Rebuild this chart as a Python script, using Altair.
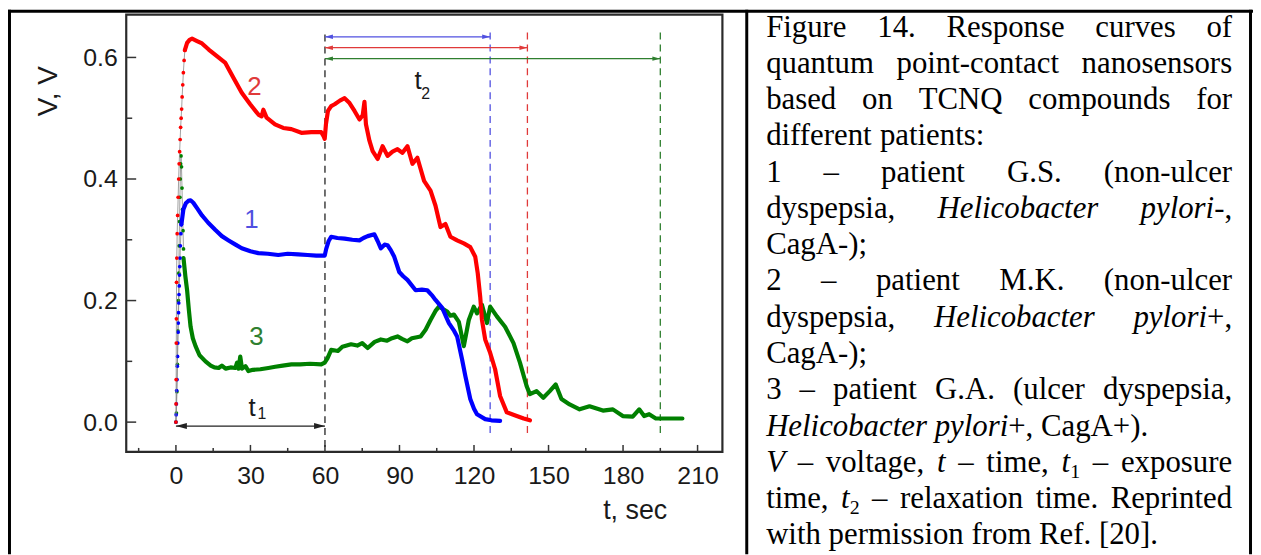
import altair as alt
import pandas as pd

# ---------------- values ----------------
# dotted initial rise of each curve (t in s, V in volts)
rise1_t = [0.0, 0.1, 0.2, 0.3, 0.45, 0.55, 0.65, 0.75, 0.85, 0.95, 1.05, 1.15, 1.25, 1.35, 1.45, 1.55, 1.65, 1.8, 2.0, 2.2]
rise1_v = [0.0, 0.012, 0.03, 0.052, 0.07, 0.092, 0.108, 0.13, 0.148, 0.163, 0.18, 0.196, 0.21, 0.224, 0.242, 0.256, 0.27, 0.29, 0.31, 0.325]
rise2_t = [0.0, 0.05, 0.1, 0.15, 0.2, 0.25, 0.35, 0.5, 0.7, 0.9, 1.1, 1.3, 1.5, 1.7, 1.9, 2.1, 2.3, 2.5, 2.75, 3.0, 3.3, 3.6]
rise2_v = [0.0, 0.03, 0.07, 0.13, 0.17, 0.23, 0.27, 0.31, 0.34, 0.37, 0.4, 0.425, 0.445, 0.465, 0.485, 0.5, 0.515, 0.535, 0.555, 0.575, 0.595, 0.612]
rise3_t = [0.0, 0.2, 0.4, 0.6, 0.8, 1.0, 1.15, 1.3, 1.45, 1.6, 1.75, 1.9, 2.05, 2.25, 2.45, 2.65, 2.85, 3.05]
rise3_v = [0.0, 0.015, 0.05, 0.095, 0.15, 0.2, 0.245, 0.29, 0.33, 0.37, 0.4, 0.425, 0.438, 0.42, 0.385, 0.35, 0.315, 0.285]

# curve 1 (blue)
curve1_t = [2.2, 3.0, 4.0, 5.0, 5.9, 7.0, 8.5, 10.5, 13.0, 15.9, 18.5, 21.2, 24.0, 26.5, 30.0, 33.2, 37.0, 41.2,
            45.0, 49.2, 53.0, 56.5, 59.9, 60.5, 61.5, 62.5, 65.0, 67.9, 71.0, 73.9, 75.5, 77.2, 79.9, 81.2, 82.5,
            84.0, 85.2, 86.5, 87.9, 89.9, 91.5, 93.2, 96.5, 99.0, 101.2, 103.0, 104.5, 107.2, 109.9, 112.0, 113.2,
            115.2, 116.5, 118.5, 120.0, 121.2, 124.5, 127.0, 130.5]
curve1_v = [0.325, 0.35, 0.36, 0.364, 0.365, 0.361, 0.352, 0.34, 0.328, 0.316, 0.306, 0.299, 0.292, 0.286, 0.281,
            0.278, 0.277, 0.275, 0.277, 0.276, 0.275, 0.274, 0.274, 0.285, 0.298, 0.305, 0.303, 0.302, 0.3, 0.299,
            0.303, 0.306, 0.309, 0.298, 0.286, 0.292, 0.291, 0.283, 0.272, 0.247, 0.24, 0.234, 0.217, 0.218, 0.217,
            0.209, 0.201, 0.188, 0.163, 0.15, 0.141, 0.103, 0.076, 0.038, 0.022, 0.013, 0.005, 0.003, 0.002]
# curve 2 (red)
curve2_t = [3.6, 4.5, 5.5, 6.5, 8.5, 10.5, 13.2, 16.5, 19.9, 23.2, 26.5, 29.9, 33.2, 34.5, 35.2, 36.5, 39.9, 43.2,
            46.5, 50.5, 54.5, 58.5, 59.5, 59.9, 60.4, 61.2, 62.5, 63.9, 66.0, 67.9, 69.9, 71.9, 73.9, 75.2, 75.9,
            76.5, 77.9, 79.2, 81.2, 83.2, 85.2, 87.2, 89.2, 91.2, 93.2, 95.2, 97.2, 99.9, 102.5, 104.5, 106.5,
            108.5, 110.5, 113.2, 115.9, 118.5, 120.5, 121.5, 122.5, 123.2, 124.5, 126.5, 128.5, 130.5, 133.2,
            137.2, 140.0, 142.5]
curve2_v = [0.612, 0.624, 0.629, 0.631, 0.627, 0.623, 0.613, 0.602, 0.591, 0.566, 0.542, 0.523, 0.506, 0.503,
            0.514, 0.501, 0.49, 0.484, 0.482, 0.476, 0.477, 0.477, 0.47, 0.466, 0.49, 0.512, 0.52, 0.523, 0.529,
            0.533, 0.525, 0.512, 0.498, 0.505, 0.527, 0.49, 0.463, 0.446, 0.433, 0.454, 0.438, 0.445, 0.449, 0.443,
            0.454, 0.425, 0.435, 0.397, 0.381, 0.356, 0.321, 0.326, 0.305, 0.299, 0.294, 0.288, 0.272, 0.245, 0.206,
            0.168, 0.136, 0.114, 0.087, 0.043, 0.016, 0.01, 0.006, 0.003]
# curve 3 (green)
curve3_t = [3.05, 3.8, 4.5, 5.2, 5.9, 6.8, 7.9, 9.5, 11.9, 14.0, 15.5, 17.2, 18.5, 20.0, 22.0, 23.9, 24.6, 25.2,
            25.9, 26.6, 28.0, 29.2, 31.0, 34.0, 37.2, 40.0, 43.0, 46.5, 50.0, 54.0, 58.5, 59.9, 61.0, 62.5, 65.2,
            67.0, 70.5, 73.0, 75.0, 77.2, 80.0, 82.5, 85.0, 87.0, 89.2, 91.0, 93.2, 95.0, 98.5, 100.5, 102.5, 104.5,
            105.9, 107.5, 109.2, 110.5, 111.9, 113.9, 115.9, 117.9, 119.9, 121.2, 123.2, 125.2, 126.5, 129.2, 132.5,
            135.9, 138.5, 141.2, 142.5, 145.2, 147.9, 150.5, 152.9, 155.2, 158.5, 162.5, 166.5, 171.9, 175.9, 179.9,
            183.9, 186.5, 188.5, 190.5, 193.2, 198.5, 203.9]
curve3_v = [0.27, 0.24, 0.217, 0.185, 0.157, 0.138, 0.125, 0.11, 0.1, 0.093, 0.09, 0.089, 0.093, 0.088, 0.09,
            0.089, 0.098, 0.088, 0.108, 0.088, 0.092, 0.084, 0.086, 0.087, 0.089, 0.091, 0.093, 0.095, 0.095, 0.096,
            0.095, 0.098, 0.105, 0.119, 0.117, 0.124, 0.128, 0.126, 0.13, 0.122, 0.132, 0.136, 0.134, 0.138, 0.141,
            0.137, 0.133, 0.138, 0.141, 0.152, 0.168, 0.183, 0.19, 0.186, 0.182, 0.175, 0.177, 0.165, 0.125, 0.168,
            0.19, 0.179, 0.193, 0.163, 0.19, 0.174, 0.157, 0.13, 0.098, 0.059, 0.046, 0.051, 0.04, 0.051, 0.062,
            0.038, 0.029, 0.021, 0.026, 0.019, 0.021, 0.01, 0.009, 0.021, 0.01, 0.013, 0.006, 0.006, 0.006]

curve_names = ["1", "2", "3"]
curve_colors = ["#0000ff", "#ff0000", "#008000"]

x_major_ticks = [0, 30, 60, 90, 120, 150, 180, 210]
x_minor_ticks = [-15, 15, 45, 75, 105, 135, 165, 195]
y_major_ticks = [0.0, 0.2, 0.4, 0.6]
y_minor_ticks = [0.1, 0.3, 0.5]

exposure_start = 0
exposure_end = 60
relax_end = [126.5, 141.5, 195.0]      # per curve 1, 2, 3
relax_level = [0.634, 0.616, 0.598]     # height of the t2 arrows
exposure_level = -0.0065

curve_label_t = [30.4, 31.6, 32.4]
curve_label_v = [0.319, 0.538, 0.1275]

caption_lines = [
    ("Figure 14. Response curves of", True),
    ("quantum point-contact nanosensors", True),
    ("based on TCNQ compounds for", True),
    ("different patients:", False),
    ("1 – patient G.S. (non-ulcer", True),
    ("dyspepsia, *Helicobacter* *pylori*-,", True),
    ("CagA-);", False),
    ("2 – patient M.K. (non-ulcer", True),
    ("dyspepsia, *Helicobacter* *pylori*+,", True),
    ("CagA-);", False),
    ("3 – patient G.A. (ulcer dyspepsia,", True),
    ("*Helicobacter* *pylori*+, CagA+).", False),
    ("*V* – voltage, *t* – time, *t*_1 – exposure", True),
    ("time, *t*_2 – relaxation time. Reprinted", True),
    ("with permission from Ref. [20].", False),
]

# ---------------- layout ----------------
PLOT_L, PLOT_T, PLOT_W, PLOT_H = 127, 13, 600, 440   # page pixels of the plot frame
X_DOM = [-20.0, 220.0]
Y_DOM = [-0.049, 0.6703]
SANS = "Liberation Sans"
SERIF = "Liberation Serif"
INK = "#1a1a1a"


def t_of(px):
    return X_DOM[0] + (px - PLOT_L) * (X_DOM[1] - X_DOM[0]) / PLOT_W


def v_of(py):
    return Y_DOM[1] - (py - PLOT_T) * (Y_DOM[1] - Y_DOM[0]) / PLOT_H


xs = alt.Scale(domain=X_DOM, nice=False, zero=False)
ys = alt.Scale(domain=Y_DOM, nice=False, zero=False)
x_axis = alt.Axis(values=x_major_ticks, ticks=False, domain=False, grid=False, labelFontSize=25,
                  labelFont=SANS, labelColor=INK, labelPadding=12, labelFlush=False, title=None)
y_axis = alt.Axis(values=y_major_ticks, format=".1f", ticks=False, domain=False, grid=False, labelFontSize=25,
                  labelFont=SANS, labelColor=INK, labelPadding=9, labelFlush=False, title=None)


def X(f):
    return alt.X(f"{f}:Q", scale=xs, axis=x_axis)


def Y(f):
    return alt.Y(f"{f}:Q", scale=ys, axis=y_axis)


def X2(f):
    return alt.X2(f"{f}:Q")


def Y2(f):
    return alt.Y2(f"{f}:Q")


layers = []

# ---- tick marks (inward) ----
def xticks(vals, length):
    return alt.Chart(pd.DataFrame({"t": vals})).mark_rule(color="#333", strokeWidth=1.5).encode(
        x=X("t"), y=alt.value(PLOT_H), y2=alt.value(PLOT_H - length))


def yticks(vals, length):
    return alt.Chart(pd.DataFrame({"v": vals})).mark_rule(color="#333", strokeWidth=1.5).encode(
        y=Y("v"), x=alt.value(0), x2=alt.value(length))


layers += [xticks(x_major_ticks, 7), xticks(x_minor_ticks, 4), yticks(y_major_ticks, 10), yticks(y_minor_ticks, 6)]

# ---- dashed verticals ----
dash_df = pd.DataFrame({
    "t": [exposure_end] + relax_end,
    "top": [v_of(33)] + [v_of(31)] * 3,
    "bot": [Y_DOM[0]] + [v_of(436)] * 3,
    "c": ["k"] + curve_names,
})
layers.append(alt.Chart(dash_df).mark_rule(strokeWidth=1.3, strokeDash=[7, 5]).encode(
    x=X("t"), y=Y("top"), y2=Y2("bot"),
    color=alt.Color("c:N", scale=alt.Scale(domain=["k"] + curve_names,
                                           range=["#222222", "#5050e0", "#e03a3a", "#2f7f2f"]), legend=None)))

# ---- arrows ----
arrow_df = pd.DataFrame({
    "a": [exposure_start] + [exposure_end] * 3,
    "b": [exposure_end] + relax_end,
    "v": [exposure_level] + relax_level,
    "c": ["k"] + curve_names,
})
arrow_color = alt.Scale(domain=["k"] + curve_names, range=["#1a1a1a"] + curve_colors)
layers.append(alt.Chart(arrow_df).mark_rule(strokeWidth=1.3).encode(
    x=X("a"), x2=X2("b"), y=Y("v"), color=alt.Color("c:N", scale=arrow_color, legend=None)))

heads = pd.DataFrame({
    "t": [exposure_start, exposure_end] + [exposure_end] * 3 + relax_end,
    "v": [exposure_level, exposure_level] + relax_level + relax_level,
    "dir": ["L", "R"] + ["L"] * 3 + ["R"] * 3,
    "big": [1, 1] + [0] * 6,
    "c": ["k", "k"] + curve_names + curve_names,
})
RIGHT = "M0,0L-2,-0.55L-2,0.55Z"
LEFT = "M0,0L2,-0.55L2,0.55Z"
for d, shape in (("L", LEFT), ("R", RIGHT)):
    for big, size in ((1, 121), (0, 64)):
        sub = heads[(heads.dir == d) & (heads.big == big)]
        layers.append(alt.Chart(sub).mark_point(shape=shape, filled=True, opacity=1, size=size, strokeWidth=0).encode(
            x=X("t"), y=Y("v"), color=alt.Color("c:N", scale=arrow_color, legend=None)))

# ---- curves ----
def curve_layers(t_main, v_main, t_rise, v_rise, color):
    main = pd.DataFrame({"t": t_main, "v": v_main})
    main["i"] = range(len(main))
    rise = pd.DataFrame({"t": t_rise, "v": v_rise})
    rise["i"] = range(len(rise))
    return [
        alt.Chart(rise).mark_line(color="#888888", strokeWidth=0.8).encode(x=X("t"), y=Y("v"), order="i:Q"),
        alt.Chart(rise).mark_circle(color=color, size=14, opacity=1).encode(x=X("t"), y=Y("v")),
        alt.Chart(main).mark_line(color=color, strokeWidth=4.2, strokeJoin="round", strokeCap="round").encode(
            x=X("t"), y=Y("v"), order="i:Q"),
    ]


layers += curve_layers(curve3_t, curve3_v, rise3_t, rise3_v, curve_colors[2])
layers += curve_layers(curve1_t, curve1_v, rise1_t, rise1_v, curve_colors[0])
layers += curve_layers(curve2_t, curve2_v, rise2_t, rise2_v, curve_colors[1])

# ---- curve numbers ----
lab_df = pd.DataFrame({"t": curve_label_t, "v": curve_label_v, "c": curve_names, "text": curve_names})
layers.append(alt.Chart(lab_df).mark_text(font=SANS, fontSize=26, align="center", baseline="alphabetic").encode(
    x=X("t"), y=Y("v"), text="text:N",
    color=alt.Color("c:N", scale=alt.Scale(domain=curve_names, range=curve_colors), legend=None)))

# ---- t1 / t2 labels ----
tl = pd.DataFrame({"t": [t_of(250), t_of(417)], "v": [v_of(417), v_of(88)], "text": ["t", "t"]})
ts = pd.DataFrame({"t": [t_of(259), t_of(424)], "v": [v_of(420), v_of(98)], "text": ["1", "2"]})
layers.append(alt.Chart(tl).mark_text(font=SANS, fontSize=26, align="left", baseline="alphabetic", color=INK).encode(
    x=X("t"), y=Y("v"), text="text:N"))
layers.append(alt.Chart(ts).mark_text(font=SANS, fontSize=16, align="left", baseline="alphabetic", color=INK).encode(
    x=X("t"), y=Y("v"), text="text:N"))

# ---- axis titles ----
layers.append(alt.Chart(pd.DataFrame({"t": [t_of(607)], "v": [v_of(521)], "text": ["t, sec"]})).mark_text(
    font=SANS, fontSize=27, align="left", baseline="alphabetic", color=INK).encode(x=X("t"), y=Y("v"), text="text:N"))
layers.append(alt.Chart(pd.DataFrame({"t": [t_of(49)], "v": [v_of(90)], "text": ["V, V"]})).mark_text(
    font=SANS, fontSize=28, align="center", baseline="middle", angle=270, color=INK).encode(
    x=X("t"), y=Y("v"), text="text:N"))

# ---- table borders ----
border_df = pd.DataFrame({
    "a": [t_of(8), t_of(9.5), t_of(751.5), t_of(1258.5)],
    "b": [t_of(1261), t_of(9.5), t_of(751.5), t_of(1258.5)],
    "va": [v_of(9.5), v_of(8), v_of(8), v_of(8)],
    "vb": [v_of(9.5), v_of(556), v_of(556), v_of(556)],
})
layers.append(alt.Chart(border_df).mark_rule(color="#000000", strokeWidth=3).encode(
    x=X("a"), x2=X2("b"), y=Y("va"), y2=Y2("vb")))

# ---- caption (justified, Times metrics) ----
ROMAN = {' ': 250, 'a': 444, 'b': 500, 'c': 444, 'd': 500, 'e': 444, 'f': 333, 'g': 500, 'h': 500, 'i': 278,
         'j': 278, 'k': 500, 'l': 278, 'm': 778, 'n': 500, 'o': 500, 'p': 500, 'q': 500, 'r': 333, 's': 389,
         't': 278, 'u': 500, 'v': 500, 'w': 722, 'x': 500, 'y': 500, 'z': 444, 'A': 722, 'C': 667, 'F': 556,
         'G': 722, 'K': 722, 'M': 889, 'N': 722, 'Q': 722, 'R': 667, 'S': 556, 'T': 611, 'V': 722, '.': 250,
         ',': 250, ':': 278, ';': 278, '-': 333, '–': 500, '(': 333, ')': 333, '[': 333, ']': 333, '+': 564}
ITALIC = {'H': 722, 'V': 611, 'e': 444, 'l': 278, 'i': 278, 'c': 444, 'o': 500, 'b': 500, 'a': 500, 't': 278,
          'r': 389, 'p': 500, 'y': 444}
CAP_SIZE, SUB_SIZE = 31, 20
CAP_LEFT, CAP_RIGHT = 771, 1240
CAP_BASE0, CAP_PITCH = 35, 36.5


def seg_width(text, style):
    if style == "i":
        return sum(ITALIC.get(ch, 500) for ch in text) / 1000 * CAP_SIZE
    size = SUB_SIZE if style == "s" else CAP_SIZE
    return sum(ROMAN.get(ch, 500) for ch in text) / 1000 * size


def parse_word(word):
    segs, italic, i = [], False, 0
    while i < len(word):
        ch = word[i]
        if ch == "*":
            italic = not italic
        elif ch == "_":
            i += 1
            segs.append([word[i], "s"])
        else:
            st = "i" if italic else "r"
            if segs and segs[-1][1] == st:
                segs[-1][0] += ch
            else:
                segs.append([ch, st])
        i += 1
    return segs


rows = []
for k, (line, justify) in enumerate(caption_lines):
    words = [parse_word(w) for w in line.split(" ")]
    widths = [sum(seg_width(s, st) for s, st in w) for w in words]
    gap = (CAP_RIGHT - CAP_LEFT - sum(widths)) / (len(words) - 1) if justify else 0.25 * CAP_SIZE
    base = CAP_BASE0 + k * CAP_PITCH
    x = CAP_LEFT
    for w, wd in zip(words, widths):
        xx = x
        for s, st in w:
            rows.append({"t": t_of(xx), "v": v_of(base + (6 if st == "s" else 0)), "text": s, "st": st})
            xx += seg_width(s, st)
        x += wd + gap
cap = pd.DataFrame(rows)
for st, fstyle, size in (("r", "normal", CAP_SIZE), ("i", "italic", CAP_SIZE), ("s", "normal", SUB_SIZE)):
    layers.append(alt.Chart(cap[cap.st == st]).mark_text(
        font=SERIF, fontSize=size, fontStyle=fstyle, align="left", baseline="alphabetic", color="#000000").encode(
        x=X("t"), y=Y("v"), text="text:N"))

chart = alt.layer(*layers).properties(
    width=PLOT_W, height=PLOT_H,
    padding={"left": PLOT_L - 8, "top": PLOT_T - 8, "right": 1261 - (PLOT_L + PLOT_W), "bottom": 555 - (PLOT_T + PLOT_H)},
    autosize=alt.AutoSizeParams(type="none"),
).configure(
    background="white",
    view=alt.ViewConfig(stroke="#2a2a2a", strokeWidth=2.2),
)

chart.save("out.html", embed_options={"renderer": "svg", "actions": False})
